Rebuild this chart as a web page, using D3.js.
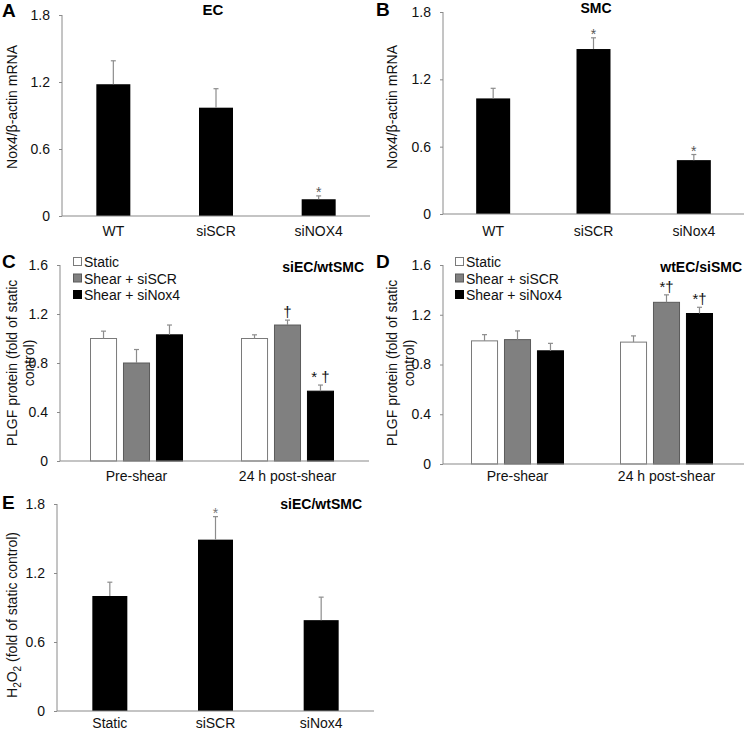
<!DOCTYPE html>
<html>
<head>
<meta charset="utf-8">
<script src="https://cdn.jsdelivr.net/npm/d3@7"></script>
<style>
  body { margin: 0; background: #fff; }
  svg { display: block; font-family: "Liberation Sans", Arial, sans-serif; }
</style>
</head>
<body>
<svg id="fig" width="748" height="732"></svg>
<script>
// ---- data ----
// A: EC
var aCats = ["WT", "siSCR", "siNOX4"];
var aMean = [1.18, 0.97, 0.15];
var aErr  = [0.21, 0.17, 0.03];
var aMarks = ["", "", "*"];
// B: SMC
var bCats = ["WT", "siSCR", "siNox4"];
var bMean = [1.03, 1.47, 0.48];
var bErr  = [0.09, 0.10, 0.05];
var bMarks = ["", "*", "*"];
// C & D: PLGF protein
var groups = ["Pre-shear", "24 h post-shear"];
var series = ["Static", "Shear + siSCR", "Shear + siNox4"];
var cMean = [[1.00, 0.80, 1.03], [1.00, 1.11, 0.57]];
var cErr  = [[0.06, 0.11, 0.08], [0.03, 0.04, 0.05]];
var cMarks = [["", "", ""], ["", "\u2020", "* \u2020"]];
var dMean = [[0.99, 1.00, 0.91], [0.98, 1.30, 1.21]];
var dErr  = [[0.05, 0.07, 0.06], [0.05, 0.06, 0.05]];
var dMarks = [["", "", ""], ["", "*\u2020", "*\u2020"]];
// E: H2O2
var eCats = ["Static", "siSCR", "siNox4"];
var eMean = [1.00, 1.49, 0.79];
var eErr  = [0.12, 0.20, 0.20];
var eMarks = ["", "*", ""];
// tick labels
var ticks18 = [0, 0.6, 1.2, 1.8];
var ticks16 = [0, 0.4, 0.8, 1.2, 1.6];

var svg = d3.select("#fig");
var axisCol = "#8a8a8a", errCol = "#8c8c8c";
var seriesFill = ["#ffffff", "#808080", "#000000"];
var seriesStroke = ["#7a7a7a", "#5a5a5a", "#000000"];

function fmt(d) { return d === 0 ? "0" : d3.format(".1f")(d); }

function yAxis(g, y, x0, tv) {
  var ax = g.append("g")
    .attr("transform", "translate(" + x0 + ",0)")
    .call(d3.axisLeft(y).tickValues(tv).tickFormat(fmt).tickSize(3).tickPadding(9));
  ax.select(".domain").attr("stroke", axisCol).attr("d", "M0," + y(0) + "V" + y(tv[tv.length - 1]));
  ax.selectAll(".tick line").attr("stroke", axisCol);
  ax.selectAll(".tick text").attr("fill", "#111").style("font-size", "14px");
}

function baseLine(g, y, x0, x1) {
  g.append("line").attr("x1", x0).attr("x2", x1).attr("y1", y(0)).attr("y2", y(0))
    .attr("stroke", axisCol).attr("stroke-width", 1.2);
}

function errBar(g, cx, yTop, yErr) {
  g.append("line").attr("x1", cx).attr("x2", cx).attr("y1", yTop).attr("y2", yErr)
    .attr("stroke", errCol).attr("stroke-width", 1.2);
  g.append("line").attr("x1", cx - 2.5).attr("x2", cx + 2.5).attr("y1", yErr).attr("y2", yErr)
    .attr("stroke", errCol).attr("stroke-width", 1.2);
}

function letter(g, t, x, y) {
  g.append("text").attr("x", x).attr("y", y).text(t)
    .style("font-size", "19px").style("font-weight", "bold");
}

function yLabel(g, lines, cx, cy) {
  var t = g.append("text").attr("transform", "translate(" + cx + "," + cy + ") rotate(-90)")
    .attr("text-anchor", "middle").style("font-size", "14px").attr("fill", "#111");
  lines.forEach(function (l, i) {
    t.append("tspan").attr("x", 0).attr("dy", i === 0 ? 0 : 17).text(l);
  });
  return t;
}

// simple 3-bar panel
function simplePanel(p) {
  var g = svg.append("g");
  var y = d3.scaleLinear().domain([0, p.ymax]).range([p.y0, p.yTop]);
  var x = d3.scaleBand().domain(p.cats).range([p.x0, p.x1]);
  yAxis(g, y, p.x0, p.ticks);
  var bw = p.barW;
  g.selectAll("rect.bar").data(p.mean).enter().append("rect")
    .attr("x", function (d, i) { return x(p.cats[i]) + x.bandwidth() / 2 - bw / 2; })
    .attr("y", function (d) { return y(d); })
    .attr("width", bw)
    .attr("height", function (d) { return y(0) - y(d); })
    .attr("fill", "#000");
  p.mean.forEach(function (d, i) {
    var cx = x(p.cats[i]) + x.bandwidth() / 2;
    errBar(g, cx, y(d), y(d + p.err[i]));
    if (p.marks[i]) {
      g.append("text").attr("x", cx).attr("y", y(d + p.err[i]) + 1).attr("text-anchor", "middle")
        .text(p.marks[i]).attr("fill", p.markCol).style("font-size", "14px");
    }
  });
  baseLine(g, y, p.x0, p.x1);
  g.selectAll("text.cat").data(p.cats).enter().append("text")
    .attr("x", function (d) { return x(d) + x.bandwidth() / 2; })
    .attr("y", p.catY).attr("text-anchor", "middle").text(function (d) { return d; })
    .style("font-size", "14px").attr("fill", "#111");
  return g;
}

// grouped panel
function groupPanel(p) {
  var g = svg.append("g");
  var y = d3.scaleLinear().domain([0, 1.6]).range([p.y0, p.yTop]);
  var x = d3.scaleBand().domain(groups).range([p.gx0, p.gx1]);
  var xi = d3.scaleBand().domain(series).range([-46.5, 46.5]).paddingInner(0.18);
  yAxis(g, y, p.x0, ticks16);
  p.mean.forEach(function (row, gi) {
    var gc = x(groups[gi]) + x.bandwidth() / 2;
    row.forEach(function (d, si) {
      var bx = gc + xi(series[si]);
      g.append("rect").attr("x", bx + 0.5).attr("y", y(d))
        .attr("width", xi.bandwidth() - 1).attr("height", y(0) - y(d))
        .attr("fill", seriesFill[si]).attr("stroke", seriesStroke[si]).attr("stroke-width", 1);
      var cx = bx + xi.bandwidth() / 2;
      errBar(g, cx, y(d), y(d + p.err[gi][si]));
      var m = p.marks[gi][si];
      if (m) {
        g.append("text").attr("x", cx).attr("y", y(d + p.err[gi][si]) - 3).attr("text-anchor", "middle")
          .text(m).attr("fill", "#111").style("font-size", "15px");
      }
    });
  });
  baseLine(g, y, p.x0, p.x1);
  g.selectAll("text.grp").data(groups).enter().append("text")
    .attr("x", function (d) { return x(d) + x.bandwidth() / 2; })
    .attr("y", p.catY).attr("text-anchor", "middle").text(function (d) { return d; })
    .style("font-size", "14px").attr("fill", "#111");
  // legend
  series.forEach(function (s, i) {
    var ly = p.legY + i * 16.5;
    g.append("rect").attr("x", p.legX + 0.5).attr("y", ly - 4.5).attr("width", 8).attr("height", 8)
      .attr("fill", seriesFill[i]).attr("stroke", seriesStroke[i]);
    g.append("text").attr("x", p.legX + 11).attr("y", ly + 5).text(s)
      .style("font-size", "14px").attr("fill", "#111");
  });
  g.append("text").attr("x", p.titleX).attr("y", p.titleY).attr("text-anchor", "end")
    .text(p.title).style("font-size", "14px").style("font-weight", "bold");
  return g;
}

// ---- A ----
var gA = simplePanel({cats: aCats, mean: aMean, err: aErr, marks: aMarks, markCol: "#555",
  ymax: 1.8, ticks: ticks18, x0: 62, x1: 370, y0: 216, yTop: 15, barW: 34, catY: 236});
gA.append("text").attr("x", 213).attr("y", 15).attr("text-anchor", "middle").text("EC")
  .style("font-size", "15px").style("font-weight", "bold");
letter(gA, "A", 2, 17);
yLabel(gA, ["Nox4/\u03b2-actin mRNA"], 17, 107);

// ---- B ----
var gB = simplePanel({cats: bCats, mean: bMean, err: bErr, marks: bMarks, markCol: "#555",
  ymax: 1.8, ticks: ticks18, x0: 443, x1: 744, y0: 214, yTop: 12, barW: 34, catY: 236});
gB.append("text").attr("x", 596).attr("y", 13).attr("text-anchor", "middle").text("SMC")
  .style("font-size", "14px").style("font-weight", "bold");
letter(gB, "B", 376, 16);
yLabel(gB, ["Nox4/\u03b2-actin mRNA"], 397, 107);

// ---- C ----
var gC = groupPanel({mean: cMean, err: cErr, marks: cMarks, x0: 60, x1: 369, gx0: 61, gx1: 363,
  y0: 461, yTop: 265, catY: 481, legX: 73, legY: 262, title: "siEC/wtSMC", titleX: 364, titleY: 272});
letter(gC, "C", 2, 268);
yLabel(gC, ["PLGF protein (fold of static", "control)"], 17, 363);

// ---- D ----
var gD = groupPanel({mean: dMean, err: dErr, marks: dMarks, x0: 443, x1: 744, gx0: 443, gx1: 741,
  y0: 464, yTop: 265, catY: 481, legX: 455, legY: 262, title: "wtEC/siSMC", titleX: 742, titleY: 272});
letter(gD, "D", 376, 268);
yLabel(gD, ["PLGF protein (fold of static", "control)"], 397, 363);

// ---- E ----
var gE = simplePanel({cats: eCats, mean: eMean, err: eErr, marks: eMarks, markCol: "#777",
  ymax: 1.8, ticks: ticks18, x0: 57, x1: 374, y0: 711, yTop: 504, barW: 35, catY: 728});
gE.append("text").attr("x", 362).attr("y", 509).attr("text-anchor", "end").text("siEC/wtSMC")
  .style("font-size", "14px").style("font-weight", "bold");
letter(gE, "E", 2, 509);
var eL = gE.append("text").attr("transform", "translate(17,615) rotate(-90)")
  .attr("text-anchor", "middle").style("font-size", "14px").attr("fill", "#111");
eL.append("tspan").text("H");
eL.append("tspan").text("2").attr("dy", 4).style("font-size", "10px");
eL.append("tspan").text("O").attr("dy", -4);
eL.append("tspan").text("2").attr("dy", 4).style("font-size", "10px");
eL.append("tspan").text(" (fold of static control)").attr("dy", -4);
</script>
</body>
</html>
